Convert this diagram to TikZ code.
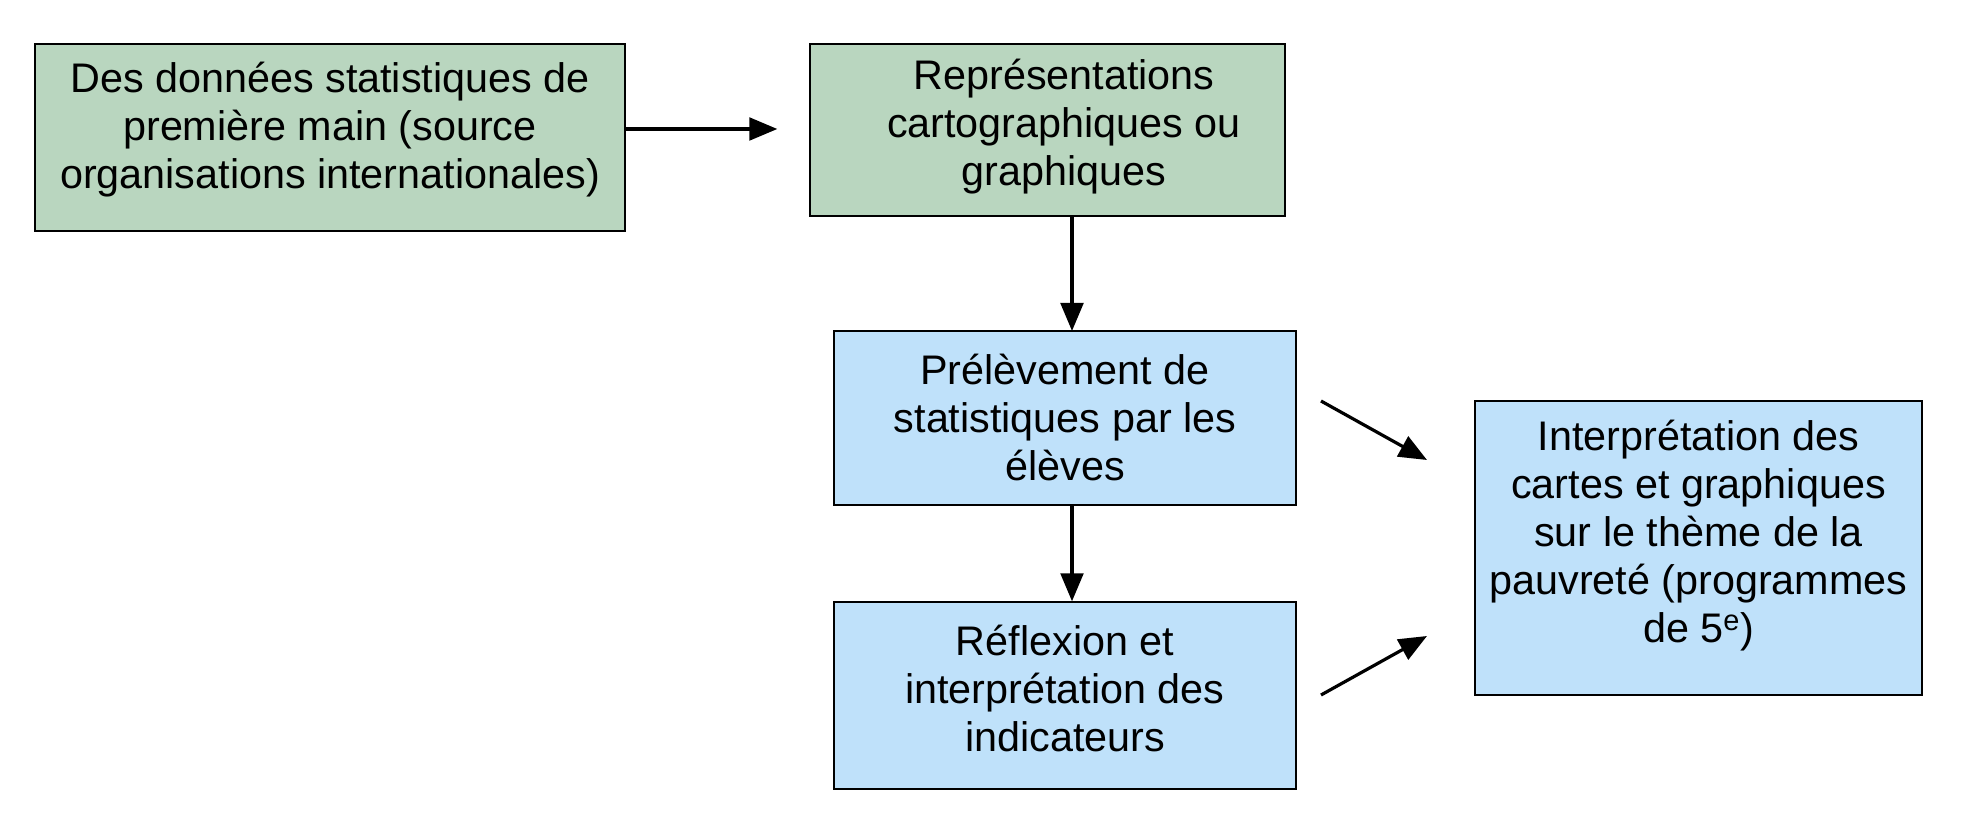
\documentclass[tikz,border=0pt]{standalone}
\usepackage{fontspec}
\setmainfont{Liberation Sans}
\usetikzlibrary{arrows.meta}
\definecolor{boxgreen}{RGB}{185,214,191}
\definecolor{boxblue}{RGB}{191,225,250}
\tikzset{
  box/.style={draw=black, line width=1pt, rectangle, align=center, inner sep=0pt,
    font=\fontsize{31}{35.5}\selectfont},
  gbox/.style={box, fill=boxgreen},
  bbox/.style={box, fill=boxblue},
  txt/.style={font=\fontsize{31}{36}\selectfont, align=center},
  conn/.style={line width=2.4pt, -{Triangle[length=21pt,width=17pt]}}
}
\begin{document}
\begin{tikzpicture}[x=0.75pt,y=-0.75pt]
\useasboundingbox (0,0) rectangle (1961,827);
\node[gbox, minimum width=590*0.75pt, minimum height=187*0.75pt] (A) at (330,137.5) {};
\node[txt] (At) at (330,130) {Des données statistiques de\\première main (source\\organisations internationales)};
\node[gbox, minimum width=475*0.75pt, minimum height=172*0.75pt] (B) at (1047.5,130) {};
\node[txt] (Bt) at (1064,127) {Représentations\\cartographiques ou\\graphiques};
\node[bbox, minimum width=462*0.75pt, minimum height=174*0.75pt] (C) at (1065,418) {};
\node[txt] (Ct) at (1065,417) {Prélèvement de\\statistiques par les\\élèves};
\node[bbox, minimum width=462*0.75pt, minimum height=187*0.75pt] (D) at (1065,695.5) {};
\node[txt] (Dt) at (1065,688) {Réflexion et\\interprétation des\\indicateurs};
\node[bbox, minimum width=447*0.75pt, minimum height=294*0.75pt] (E) at (1698.5,548) {};
\node[txt] (Et) at (1698.5,536) {Interprétation des\\cartes et graphiques\\sur le thème de la\\pauvreté (programmes\\de 5\textsuperscript{e})};
\draw[conn, shorten >=24pt] (A.east |- 0,129) -- (B.west |- 0,129);
\draw[conn] (B.south -| 1072,0) -- (1072,331);
\draw[conn] (C.south -| 1072,0) -- (D.north -| 1072,0);
\coordinate (c1) at (1321,401);
\coordinate (c2) at (1427,460);
\coordinate (d1) at (1321,695);
\coordinate (d2) at (1427,636);
\draw[conn] (c1) -- (c2);
\draw[conn] (d1) -- (d2);
\end{tikzpicture}
\end{document}
